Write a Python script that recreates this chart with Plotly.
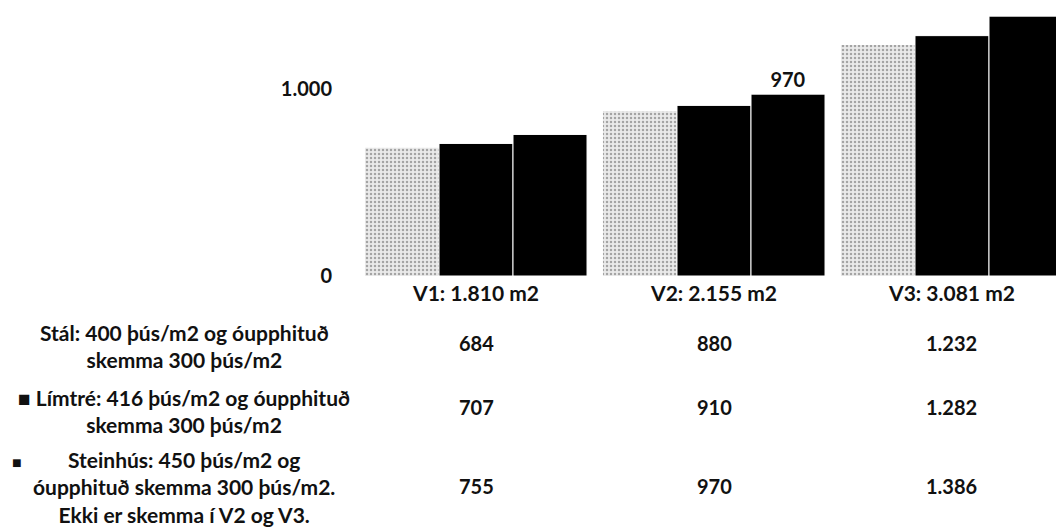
import plotly.graph_objects as go

categories = ["V1: 1.810 m2", "V2: 2.155 m2", "V3: 3.081 m2"]
series_names = [
    "Stál: 400 þús/m2 og óupphituð<br>skemma 300 þús/m2",
    "■ Límtré: 416 þús/m2 og óupphituð<br>skemma 300 þús/m2",
    "Steinhús: 450 þús/m2 og<br>óupphituð skemma 300 þús/m2.<br>Ekki er skemma í V2 og V3.",
]
stal = [684, 880, 1232]
limtre = [707, 910, 1282]
steinhus = [755, 970, 1386]
steinhus_labels = ["", "970", ""]
y_tickvals = [0, 1000]
y_ticktext = ["0", "1.000"]

FONT = "Lato"
INK = "#111111"

def fmt(v):
    return f"{v:,}".replace(",", ".")

fig = go.Figure()
fig.add_trace(go.Bar(
    x=categories, y=stal, name="Stál",
    marker=dict(color="#eaeaea", line=dict(width=0),
                pattern=dict(shape=".", fgcolor="#5e5e5e", bgcolor="#eaeaea",
                             size=4, solidity=0.3, fillmode="overlay")),
))
fig.add_trace(go.Bar(
    x=categories, y=limtre, name="Límtré",
    marker=dict(color="#000000", line=dict(color="#ffffff", width=1)),
))
fig.add_trace(go.Bar(
    x=categories, y=steinhus, name="Steinhús",
    marker=dict(color="#000000", line=dict(color="#ffffff", width=1)),
    text=steinhus_labels, textposition="outside", cliponaxis=False,
    textfont=dict(family=FONT, size=20, color=INK, weight="bold"),
))

fig.update_layout(
    width=1056, height=528,
    margin=dict(l=357, r=0, t=0, b=252),
    paper_bgcolor="white", plot_bgcolor="white",
    barmode="group", bargap=0.067, bargroupgap=0,
    showlegend=False,
    font=dict(family=FONT, size=20, color=INK, weight="bold"),
    xaxis=dict(type="category", range=[-0.5, 2.437], showgrid=False,
               showline=False, zeroline=False, ticks="",
               tickfont=dict(family=FONT, size=21, color=INK, weight="bold"),
               ticklabelstandoff=3),
    yaxis=dict(range=[0, 1472], showgrid=False, showline=False, zeroline=False,
               tickvals=y_tickvals, ticktext=y_ticktext, ticks="",
               tickfont=dict(family=FONT, size=20, color=INK, weight="bold"),
               ticklabelstandoff=24),
)

# Data table under the chart
row_offsets = [67, 131, 210]  # px below the baseline
rows = [stal, limtre, steinhus]
for r, vals in enumerate(rows):
    for c, v in enumerate(vals):
        fig.add_annotation(x=categories[c], xref="x", y=0, yref="paper",
                           xanchor="center", yanchor="middle", yshift=-row_offsets[r],
                           text=fmt(v), showarrow=False,
                           font=dict(family=FONT, size=20, color=INK, weight="bold"))

label_offsets = [70, 135, 211]
for r, name in enumerate(series_names):
    fig.add_annotation(x=0, xref="paper", xshift=-173, y=0, yref="paper",
                       xanchor="center", yanchor="middle", yshift=-label_offsets[r],
                       align="center", text=name, showarrow=False,
                       font=dict(family=FONT, size=21, color=INK, weight="bold"))

# legend key for third row
fig.add_annotation(x=0, xref="paper", xshift=-340, y=0, yref="paper",
                   xanchor="center", yanchor="middle", yshift=-185, text="■",
                   showarrow=False, font=dict(family=FONT, size=16, color=INK))

fig.write_html("out.html")
